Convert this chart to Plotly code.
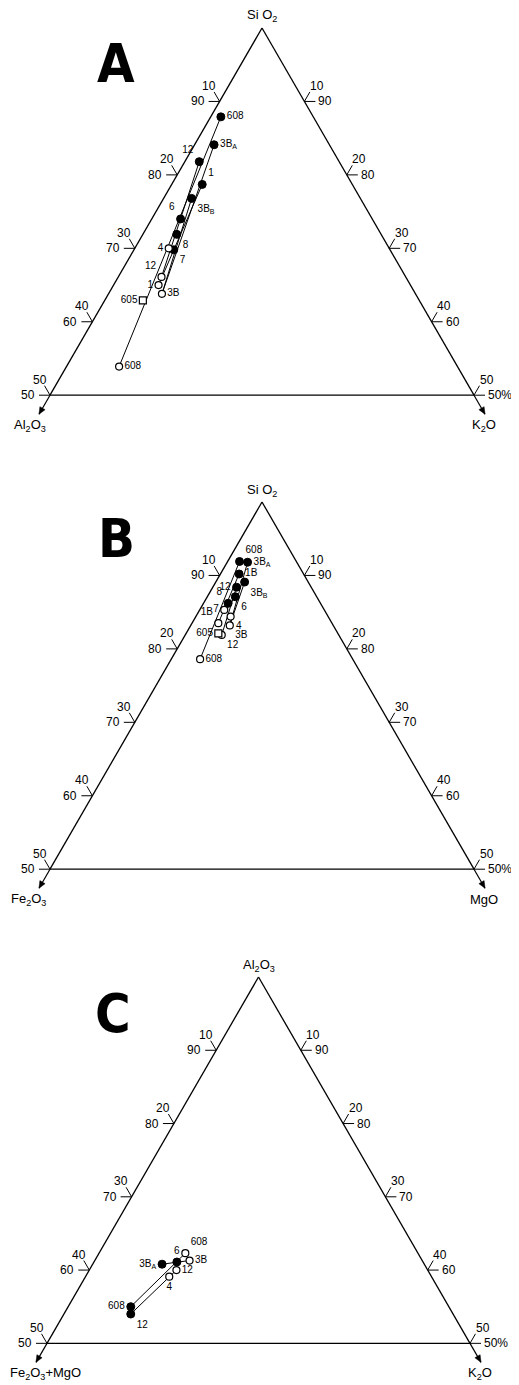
import math
import plotly.graph_objects as go

# the page body keeps its default 8px margin, so the figure is shifted by it
PAGE_MARGIN = 8
W, H = 519 - PAGE_MARGIN, 1385 - PAGE_MARGIN

# ---------------- data (weight %) ----------------
# Panel A: SiO2 - Al2O3 - K2O
A_FILLED_LABELS = ["608", "3B<sub>A</sub>", "12", "1", "3B<sub>B</sub>", "6", "8", "7"]
A_FILLED_SIO2 = [87.9, 84.1, 81.8, 78.7, 76.8, 74.0, 71.9, 69.8]
A_FILLED_AL2O3 = [10.9, 13.6, 16.5, 17.7, 19.9, 22.6, 24.1, 25.5]
A_FILLED_K2O = [1.2, 2.3, 1.7, 3.6, 3.3, 3.4, 4.0, 4.7]

A_OPEN_LABELS = ["4", "12", "1", "3B", "608"]
A_OPEN_SIO2 = [70.0, 66.1, 65.0, 63.8, 53.9]
A_OPEN_AL2O3 = [26.0, 28.8, 29.7, 29.9, 39.9]
A_OPEN_K2O = [4.0, 5.1, 5.3, 6.3, 6.2]

A_SQUARE_LABELS = ["605"]
A_SQUARE_SIO2 = [62.9]
A_SQUARE_AL2O3 = [32.6]
A_SQUARE_K2O = [4.5]

A_TIES = [(0, 4), (1, 3), (2, 1), (3, 2), (4, 3)]

# Panel B: SiO2 - Fe2O3 - MgO
B_FILLED_LABELS = ["608", "3B<sub>A</sub>", "1B", "3B<sub>B</sub>", "12", "6", "8"]
B_FILLED_SIO2 = [91.9, 91.8, 90.2, 89.1, 88.4, 87.1, 86.2]
B_FILLED_FE2O3 = [6.7, 5.8, 7.6, 7.5, 8.8, 9.6, 10.9]
B_FILLED_MGO = [1.4, 2.4, 2.2, 3.4, 2.8, 3.3, 2.9]

B_OPEN_LABELS = ["7", "4", "1B", "3B", "12", "608"]
B_OPEN_SIO2 = [85.3, 84.4, 83.5, 83.2, 81.9, 78.6]
B_OPEN_FE2O3 = [11.8, 11.5, 13.4, 12.2, 13.8, 18.0]
B_OPEN_MGO = [2.9, 4.1, 3.1, 4.6, 4.3, 3.4]

B_SQUARE_LABELS = ["605"]
B_SQUARE_SIO2 = [82.1]
B_SQUARE_FE2O3 = [14.1]
B_SQUARE_MGO = [3.8]

B_TIES = [(0, 5), (1, 3), (2, 2), (3, 3), (4, 4)]

# Panel C: Al2O3 - (Fe2O3 + MgO) - K2O
C_FILLED_LABELS = ["3B<sub>A</sub>", "6", "608", "12"]
C_FILLED_AL2O3 = [60.8, 61.1, 55.0, 54.0]
C_FILLED_FEMG = [31.0, 29.1, 37.6, 38.1]
C_FILLED_K2O = [8.2, 9.8, 7.4, 7.9]

C_OPEN_LABELS = ["608", "3B", "12", "4"]
C_OPEN_AL2O3 = [62.3, 61.3, 60.0, 59.1]
C_OPEN_FEMG = [27.5, 27.5, 29.7, 31.0]
C_OPEN_K2O = [10.2, 11.2, 10.3, 9.9]

C_TIES = [(0, 1), (2, 0), (3, 2)]

TICK_VALUES = [10, 20, 30, 40, 50]

# ---------------- layout geometry (page pixels) ----------------
PANELS = [
    dict(name="ternary", left=50, top=28, side=424, letter="A",
         top_label="Si O<sub>2</sub>", left_label="Al<sub>2</sub>O<sub>3</sub>",
         right_label="K<sub>2</sub>O", left_label_x=-2, left_anchor="right"),
    dict(name="ternary2", left=50, top=502, side=424, letter="B",
         top_label="Si O<sub>2</sub>", left_label="Fe<sub>2</sub>O<sub>3</sub>",
         right_label="MgO", left_label_x=-2, left_anchor="right"),
    dict(name="ternary3", left=47, top=977, side=423, letter="C",
         top_label="Al<sub>2</sub>O<sub>3</sub>", left_label="Fe<sub>2</sub>O<sub>3</sub>+MgO",
         right_label="K<sub>2</sub>O", left_label_x=-39, left_anchor="left"),
]

FONT = "Liberation Sans"
LETTER_FONT = "Liberation Sans Narrow, DejaVu Sans Condensed, DejaVu Sans, sans-serif"
S3 = math.sqrt(3) / 2


def px(x, y):
    return (x - PAGE_MARGIN) / W, 1 - (y - PAGE_MARGIN) / H


def corner_points(p):
    h = p["side"] * S3
    apex = (p["left"] + p["side"] / 2, p["top"])
    bl = (p["left"], p["top"] + h)
    br = (p["left"] + p["side"], p["top"] + h)
    return apex, bl, br


def tern_px(p, a, b, c):
    apex, bl, br = corner_points(p)
    al, be, ga = (a - 50) / 50, b / 50, c / 50
    return (al * apex[0] + be * bl[0] + ga * br[0],
            al * apex[1] + be * bl[1] + ga * br[1])


def seg(xa, ya, xb, yb, width=1):
    x0, y0 = px(xa, ya)
    x1, y1 = px(xb, yb)
    return dict(type="line", xref="paper", yref="paper", x0=x0, y0=y0, x1=x1, y1=y1,
                line=dict(color="black", width=width))


axis_style = dict(showticklabels=False, ticks="", showgrid=False,
                  linecolor="black", linewidth=1.3, title=dict(text=""))

fig = go.Figure()
layout_ternaries = {}
shapes = []
annotations = []

for p in PANELS:
    h = p["side"] * S3
    x0, y1 = px(p["left"], p["top"])
    x1, y0 = px(p["left"] + p["side"], p["top"] + h)
    layout_ternaries[p["name"]] = dict(
        domain=dict(x=[x0, x1], y=[y0, y1]), sum=100, bgcolor="white",
        aaxis=dict(min=50, **axis_style),
        baxis=dict(min=0, **axis_style),
        caxis=dict(min=0, **axis_style),
    )

    apex, bl, br = corner_points(p)
    L = 11
    for v in TICK_VALUES:
        # left edge: horizontal tick for the apex oxide, slanted tick for the left oxide
        ex, ey = tern_px(p, 100 - v, v, 0)
        shapes.append(seg(ex, ey, ex - L, ey))
        shapes.append(seg(ex, ey, ex - L * 0.5, ey - L * S3))
        lx, ly = px(ex - L - 2, ey)
        annotations.append(dict(x=lx, y=ly, text=str(100 - v), xanchor="right", yanchor="middle"))
        lx, ly = px(ex - L * 0.5 - 5, ey - L * S3 - 6)
        annotations.append(dict(x=lx, y=ly, text=str(v), xanchor="center", yanchor="middle"))
        # right edge
        ex, ey = tern_px(p, 100 - v, 0, v)
        shapes.append(seg(ex, ey, ex + L, ey))
        shapes.append(seg(ex, ey, ex + L * 0.5, ey - L * S3))
        lx, ly = px(ex + L + 1, ey)
        annotations.append(dict(x=lx, y=ly, text=str(100 - v) + ("%" if v == 50 else ""),
                                xanchor="left", yanchor="middle"))
        lx, ly = px(ex + L * 0.5 + 7, ey - L * S3 - 6)
        annotations.append(dict(x=lx, y=ly, text=str(v), xanchor="center", yanchor="middle"))

    # corner arrows (continuing the side edges outwards)
    for corner, sgn in [(bl, -1), (br, 1)]:
        tip = (corner[0] + sgn * 11, corner[1] + 19)
        shapes.append(seg(corner[0], corner[1], tip[0], tip[1], 1.2))
        ux, uy = sgn * 0.5, S3
        nx, ny = -uy, ux
        back = (tip[0] - ux * 7, tip[1] - uy * 7)
        pts = [tip, (back[0] + nx * 3, back[1] + ny * 3), (back[0] - nx * 3, back[1] - ny * 3)]
        path = "M " + " L ".join("%.4f,%.4f" % px(*q) for q in pts) + " Z"
        shapes.append(dict(type="path", xref="paper", yref="paper", path=path,
                           fillcolor="black", line=dict(color="black", width=0.5)))

    # axis names
    tx, ty = px(apex[0], apex[1] - 12)
    annotations.append(dict(x=tx, y=ty, text=p["top_label"], font=dict(size=13),
                            xanchor="center", yanchor="middle"))
    tx, ty = px(bl[0] + p["left_label_x"], bl[1] + 30)
    annotations.append(dict(x=tx, y=ty, text=p["left_label"], font=dict(size=13),
                            xanchor=p["left_anchor"], yanchor="middle"))
    tx, ty = px(br[0] + 10, bl[1] + 30)
    annotations.append(dict(x=tx, y=ty, text=p["right_label"], font=dict(size=13),
                            xanchor="center", yanchor="middle"))
    # panel letter
    tx, ty = px(p["left"] + 66, p["top"] + 36)
    annotations.append(dict(x=tx, y=ty, text=p["letter"],
                            font=dict(size=54, family=LETTER_FONT, weight="bold"),
                            xanchor="center", yanchor="middle"))

for an in annotations:
    an.setdefault("xref", "paper")
    an.setdefault("yref", "paper")
    an.setdefault("showarrow", False)
    an.setdefault("font", dict(size=12))


def add_ties(subplot, fa, fb, fc, oa, ob, oc, ties):
    for fi, oi in ties:
        fig.add_trace(go.Scatterternary(
            a=[fa[fi], oa[oi]], b=[fb[fi], ob[oi]], c=[fc[fi], oc[oi]],
            mode="lines", line=dict(color="black", width=1), subplot=subplot,
            hoverinfo="skip"))


def add_points(subplot, a, b, c, labels, positions, kind):
    if kind == "filled":
        marker = dict(symbol="circle", size=8, color="black", line=dict(color="black", width=1))
    elif kind == "open":
        marker = dict(symbol="circle", size=7, color="white", line=dict(color="black", width=1.2))
    else:
        marker = dict(symbol="square", size=7, color="white", line=dict(color="black", width=1.2))
    fig.add_trace(go.Scatterternary(
        a=a, b=b, c=c, mode="markers+text", text=labels, textposition=positions,
        textfont=dict(size=10, family=FONT, color="black"), marker=marker,
        subplot=subplot, cliponaxis=False))


# panel A
add_ties("ternary", A_FILLED_SIO2, A_FILLED_AL2O3, A_FILLED_K2O,
         A_OPEN_SIO2, A_OPEN_AL2O3, A_OPEN_K2O, A_TIES)
add_points("ternary", A_FILLED_SIO2, A_FILLED_AL2O3, A_FILLED_K2O, A_FILLED_LABELS,
           ["middle right", "middle right", "top left", "top right", "bottom right",
            "top left", "bottom right", "bottom right"], "filled")
add_points("ternary", A_OPEN_SIO2, A_OPEN_AL2O3, A_OPEN_K2O, A_OPEN_LABELS,
           ["middle left", "top left", "middle left", "middle right", "middle right"], "open")
add_points("ternary", A_SQUARE_SIO2, A_SQUARE_AL2O3, A_SQUARE_K2O, A_SQUARE_LABELS,
           ["middle left"], "square")

# panel B
add_ties("ternary2", B_FILLED_SIO2, B_FILLED_FE2O3, B_FILLED_MGO,
         B_OPEN_SIO2, B_OPEN_FE2O3, B_OPEN_MGO, B_TIES)
add_points("ternary2", B_FILLED_SIO2, B_FILLED_FE2O3, B_FILLED_MGO, B_FILLED_LABELS,
           ["top right", "middle right", "middle right", "bottom right", "middle left",
            "bottom right", "top left"], "filled")
add_points("ternary2", B_OPEN_SIO2, B_OPEN_FE2O3, B_OPEN_MGO, B_OPEN_LABELS,
           ["middle left", "bottom right", "top left", "bottom right", "bottom right",
            "middle right"], "open")
add_points("ternary2", B_SQUARE_SIO2, B_SQUARE_FE2O3, B_SQUARE_MGO, B_SQUARE_LABELS,
           ["middle left"], "square")

# panel C
add_ties("ternary3", C_FILLED_AL2O3, C_FILLED_FEMG, C_FILLED_K2O,
         C_OPEN_AL2O3, C_OPEN_FEMG, C_OPEN_K2O, C_TIES)
add_points("ternary3", C_FILLED_AL2O3, C_FILLED_FEMG, C_FILLED_K2O, C_FILLED_LABELS,
           ["middle left", "top center", "middle left", "bottom right"], "filled")
add_points("ternary3", C_OPEN_AL2O3, C_OPEN_FEMG, C_OPEN_K2O, C_OPEN_LABELS,
           ["top right", "middle right", "middle right", "bottom center"], "open")

fig.update_layout(
    width=W, height=H, margin=dict(l=0, r=0, t=0, b=0),
    paper_bgcolor="white", plot_bgcolor="white", showlegend=False,
    font=dict(family=FONT, color="black", size=12),
    shapes=shapes, annotations=annotations,
    **layout_ternaries,
)

fig.write_html("out.html")
